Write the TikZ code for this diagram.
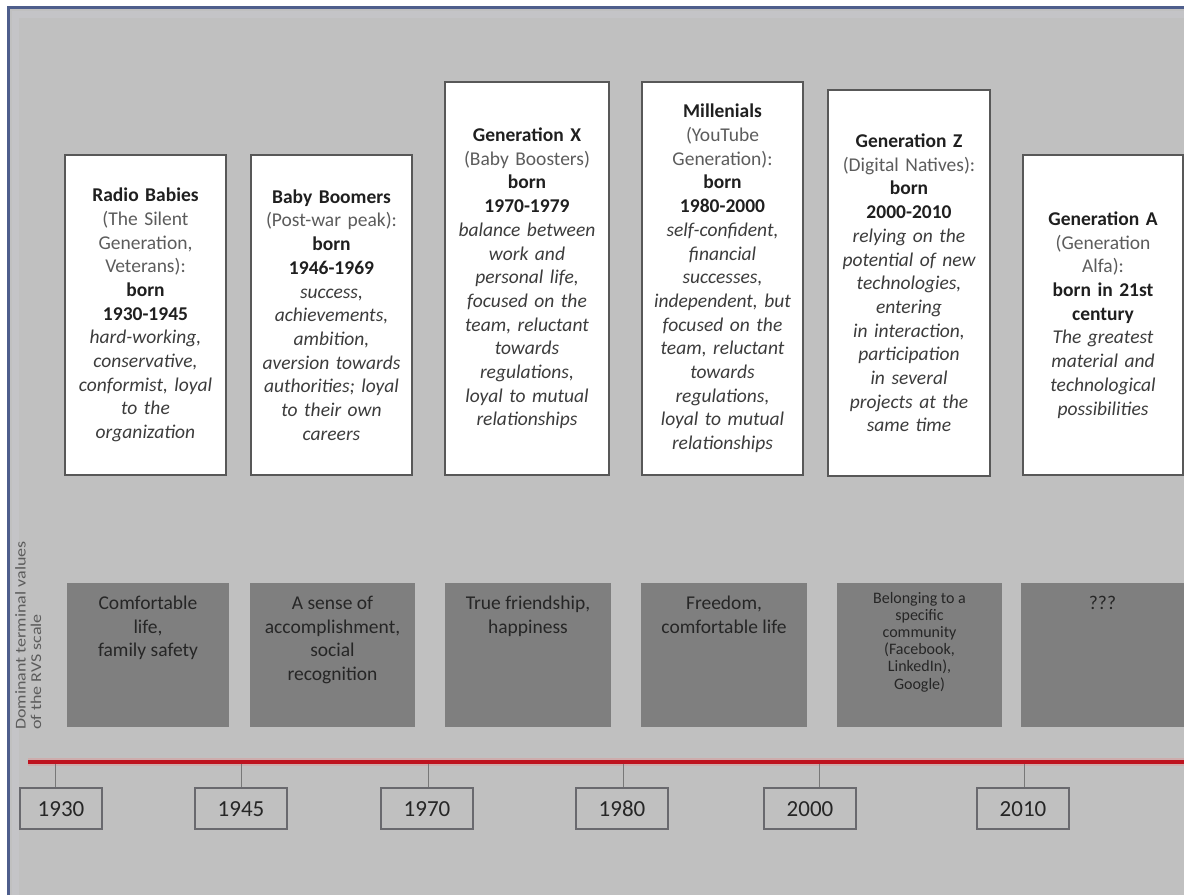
\documentclass[tikz,border=0pt]{standalone}
\usepackage{fontspec}
\setmainfont{Carlito}
\usepackage{graphicx}
\definecolor{bgc}{RGB}{192,192,192}
\definecolor{darkbox}{RGB}{127,127,127}
\definecolor{frame}{RGB}{78,94,140}
\definecolor{framelight}{RGB}{196,196,199}
\definecolor{boxline}{RGB}{88,88,88}
\definecolor{yearline}{RGB}{105,105,110}
\definecolor{tdark}{RGB}{38,38,38}
\definecolor{tpar}{RGB}{92,92,92}
\definecolor{tital}{RGB}{60,60,60}
\definecolor{redline}{RGB}{190,18,30}
\definecolor{redhalo}{RGB}{215,160,160}
\definecolor{tickc}{RGB}{120,120,120}
\newcommand{\topfont}{\fontsize{19.5}{23.7}\selectfont}
\newcommand{\valfont}{\fontsize{19.5}{23.7}\selectfont}
\newcommand{\smallvalfont}{\fontsize{16}{17.2}\selectfont}
\newcommand{\yearfont}{\fontsize{23}{26}\selectfont}
\newcommand{\gpar}[1]{{\color{tpar}#1}}
\newcommand{\gital}[1]{{\itshape\color{tital}#1}}
\newcommand{\gbold}[1]{{\bfseries\color{black!88}#1}}
\begin{document}
\begin{tikzpicture}[x=1pt,y=-1pt,
  genbox/.style={draw=boxline, line width=1.6pt, fill=white, inner sep=0pt, align=center, font=\topfont},
  valbox/.style={fill=darkbox, inner sep=0pt, minimum height=144pt},
  valtext/.style={inner sep=0pt, align=center, font=\valfont, text=tdark},
  yearbox/.style={draw=yearline, line width=1.3pt, fill=bgc, minimum height=41pt, inner sep=0pt, font=\yearfont, text=tdark, text height=15pt, text depth=0pt},
  tickline/.style={draw=tickc, line width=0.9pt}]
\useasboundingbox (0,0) rectangle (1184,895);
\fill[white] (0,0) rectangle (1184,895);
\fill[bgc] (8,7) rectangle (1184,895);
\draw[framelight, line width=7pt] (15,895) -- (15,14) -- (1184,14);
\draw[frame, line width=2.4pt] (8.5,895) -- (8.5,7.5) -- (1184,7.5);

% generation boxes
\node[genbox, minimum width=161pt, minimum height=320pt, text width=157pt] (b1) at (145.5,315) {%
\gbold{Radio Babies}\\ \gpar{(The Silent}\\ \gpar{Generation,}\\ \gpar{Veterans):}\\ \gbold{born}\\ \gbold{1930-1945}\\
\gital{hard-working,}\\ \gital{conservative,}\\ \gital{conformist, loyal}\\ \gital{to the}\\ \gital{organization}};
\node[genbox, minimum width=161pt, minimum height=320pt, text width=157pt] (b2) at (331.5,315) {%
\gbold{Baby Boomers}\\ \gpar{(Post-war peak):}\\ \gbold{born}\\ \gbold{1946-1969}\\
\gital{success,}\\ \gital{achievements,}\\ \gital{ambition,}\\ \gital{aversion towards}\\ \gital{authorities; loyal}\\ \gital{to their own}\\ \gital{careers}};
\node[genbox, minimum width=164pt, minimum height=393pt, text width=160pt] (b3) at (527,278.5) {%
\gbold{Generation X}\\ \gpar{(Baby Boosters)}\\ \gbold{born}\\ \gbold{1970-1979}\\
\gital{balance between}\\ \gital{work and}\\ \gital{personal life,}\\ \gital{focused on the}\\ \gital{team, reluctant}\\ \gital{towards}\\ \gital{regulations,}\\ \gital{loyal to mutual}\\ \gital{relationships}};
\node[genbox, minimum width=161pt, minimum height=393pt, text width=157pt] (b4) at (722.5,278.5) {%
\gbold{Millenials}\\ \gpar{(YouTube}\\ \gpar{Generation):}\\ \gbold{born}\\ \gbold{1980-2000}\\
\gital{self-confident,}\\ \gital{financial}\\ \gital{successes,}\\ \gital{independent, but}\\ \gital{focused on the}\\ \gital{team, reluctant}\\ \gital{towards}\\ \gital{regulations,}\\ \gital{loyal to mutual}\\ \gital{relationships}};
\node[genbox, minimum width=162pt, minimum height=386pt, text width=158pt] (b5) at (909,283) {%
\gbold{Generation Z}\\ \gpar{(Digital Natives):}\\ \gbold{born}\\ \gbold{2000-2010}\\
\gital{relying on the}\\ \gital{potential of new}\\ \gital{technologies,}\\ \gital{entering}\\ \gital{in interaction,}\\ \gital{participation}\\ \gital{in several}\\ \gital{projects at the}\\ \gital{same time}};
\node[genbox, minimum width=160pt, minimum height=320pt, text width=156pt] (b6) at (1103,315) {%
\gbold{Generation A}\\ \gpar{(Generation}\\ \gpar{Alfa):}\\ \gbold{born in 21st}\\ \gbold{century}\\
\gital{The greatest}\\ \gital{material and}\\ \gital{technological}\\ \gital{possibilities}};

% side label
\node[inner sep=0pt, rotate=90, anchor=north west, align=left, text=tpar, font=\fontsize{15}{15.5}\selectfont] (lbl) at (15,730)
{\scalebox{1.2}[1]{Dominant terminal values}\\ \scalebox{1.2}[1]{of the RVS scale}};

% value boxes
\node[valbox, minimum width=162pt] (g1) at (148,655) {};
\node[valbox, minimum width=165pt] (g2) at (332.5,655) {};
\node[valbox, minimum width=166pt] (g3) at (528,655) {};
\node[valbox, minimum width=166pt] (g4) at (724,655) {};
\node[valbox, minimum width=165pt] (g5) at (919.5,655) {};
\node[valbox, minimum width=163pt] (g6) at (1102.5,655) {};
\node[valtext, anchor=north, yshift=-13pt] (g1t) at (g1.north) {Comfortable\\ life,\\ family safety};
\node[valtext, anchor=north, yshift=-13pt] (g2t) at (g2.north) {A sense of\\ accomplishment,\\ social\\ recognition};
\node[valtext, anchor=north, yshift=-13pt] (g3t) at (g3.north) {True friendship,\\ happiness};
\node[valtext, anchor=north, yshift=-13pt] (g4t) at (g4.north) {Freedom,\\ comfortable life};
\node[valtext, anchor=north, yshift=-9pt, font=\smallvalfont] (g5t) at (g5.north) {Belonging to a\\ specific\\ community\\ (Facebook,\\ LinkedIn),\\ Google)};
\node[valtext, anchor=north, yshift=-13pt] (g6t) at (g6.north) {???};

% timeline
\coordinate (rl) at (28,762);
\coordinate (rr) at (1184,762);
\draw[redhalo, line width=8pt, opacity=0.6] (rl) -- (rr);
\draw[redline, line width=3.6pt] (rl) -- (rr);

\node[yearbox, minimum width=82pt] (y1) at (61,808.5) {1930};
\node[yearbox, minimum width=92pt] (y2) at (241,808.5) {1945};
\node[yearbox, minimum width=92pt] (y3) at (427,808.5) {1970};
\node[yearbox, minimum width=92pt] (y4) at (622,808.5) {1980};
\node[yearbox, minimum width=92pt] (y5) at (810,808.5) {2000};
\node[yearbox, minimum width=92pt] (y6) at (1023,808.5) {2010};

\coordinate (t1) at (55,764);
\coordinate (t2) at (241,764);
\coordinate (t3) at (428,764);
\coordinate (t4) at (623,764);
\coordinate (t5) at (819,764);
\coordinate (t6) at (1024,764);
\draw[tickline] (t1) -- (t1 |- y1.north);
\draw[tickline] (t2) -- (t2 |- y2.north);
\draw[tickline] (t3) -- (t3 |- y3.north);
\draw[tickline] (t4) -- (t4 |- y4.north);
\draw[tickline] (t5) -- (t5 |- y5.north);
\draw[tickline] (t6) -- (t6 |- y6.north);
\end{tikzpicture}
\end{document}
